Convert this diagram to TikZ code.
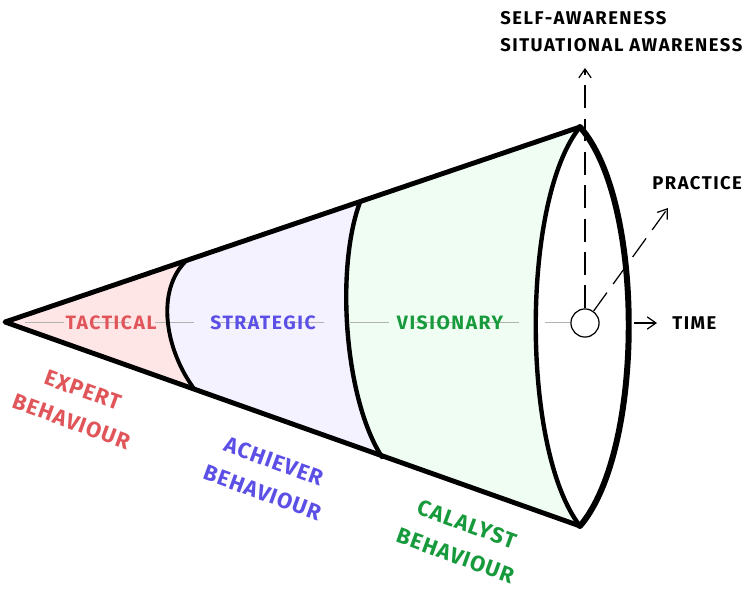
\documentclass[tikz,border=0pt]{standalone}
\usepackage{fontspec}
\setmainfont{Fira Sans}
\newfontfamily\sketchfont{Fira Sans}[LetterSpace=8]
\newfontfamily\slantfont{Fira Sans}[LetterSpace=5]
\usepackage{xcolor}
\usetikzlibrary{arrows.meta,positioning}

\definecolor{tacred}{HTML}{E0555A}
\definecolor{stratblue}{HTML}{5B4FE6}
\definecolor{visgreen}{HTML}{179A3C}
\definecolor{tacfill}{HTML}{FFE6E6}
\definecolor{stratfill}{HTML}{F4F2FF}
\definecolor{visfill}{HTML}{EFFDF3}

\begin{document}
\begin{tikzpicture}[
    x=0.02cm, y=-0.02cm,
    >={Straight Barb[length=5pt,width=7pt]},
    hand/.style={line width=2.8pt, line join=round, line cap=round},
    rim/.style={line width=2.2pt, line cap=round},
    axis/.style={draw=black!30, line width=0.5pt, dash pattern=on 22 off 15},
    guide/.style={->, line width=0.7pt, dash pattern=on 13pt off 6pt},
    caption/.style={font=\sketchfont\bfseries\fontsize{10.5}{12}\selectfont, inner sep=0pt},
    zone/.style={font=\sketchfont\bfseries\fontsize{11}{12}\selectfont, inner sep=0pt},
    behaviour/.style={font=\slantfont\bfseries\fontsize{12.5}{19}\selectfont, align=center, rotate=-20, inner sep=0pt}
]
\useasboundingbox (0,0) rectangle (744,591);

% cone outline points
\coordinate (apex) at (5,322);
\coordinate (top) at (580,127);
\coordinate (bot) at (580,526);
\coordinate (tac_top) at (187,260);
\coordinate (tac_bot) at (195,390);
\coordinate (vis_top) at (360,202);
\coordinate (vis_bot) at (382,457);

% fills
\fill[visfill] (apex) -- (top) .. controls (521,200) and (521,450) .. (bot) -- cycle;
\fill[stratfill] (apex) -- (vis_top) .. controls (335,270) and (345,400) .. (vis_bot) -- cycle;
\fill[tacfill] (apex) -- (tac_top) .. controls (155,290) and (165,350) .. (tac_bot) -- cycle;
\fill[white] (top) .. controls (521,200) and (521,450) .. (bot)
    .. controls (645,450) and (645,200) .. (top) -- cycle;

% centre line
\draw[axis] (25,322) -- (570,322);

% zones
\node[zone, text=tacred] (tactical) at (111,323) {TACTICAL};
\node[zone, text=stratblue] (strategic) at (263,323) {STRATEGIC};
\node[zone, text=visgreen] (visionary) at (450,323) {VISIONARY};

\node[behaviour, text=tacred] (expert) at (77,406) {EXPERT\\BEHAVIOUR};
\node[behaviour, text=stratblue] (achiever) at (268,477) {ACHIEVER\\BEHAVIOUR};
\node[behaviour, text=visgreen] (catalyst) at (461,540) {CALALYST\\BEHAVIOUR};

% outlines
\draw[hand] (top) -- (apex) -- (bot);
\draw[rim] (tac_top) .. controls (155,290) and (165,350) .. (tac_bot);
\draw[rim, line width=2.5pt] (vis_top) .. controls (335,270) and (345,400) .. (vis_bot);
\draw[rim, line width=2.5pt] (top) .. controls (521,200) and (521,450) .. (bot);
\draw[hand, line width=3.4pt] (top) .. controls (645,200) and (645,450) .. (bot);

% axes
\node[draw, circle, fill=white, line width=0.7pt, minimum size=16, inner sep=0pt] (hub) at (585,323) {};
\coordinate (up) at (585,68);
\coordinate (slant) at (668,208);
\coordinate (rim_right) at (634,323);
\coordinate (time_in) at (657,323);

\node[caption, anchor=west] (self) at (500,18) {SELF-AWARENESS};
\node[caption, anchor=west] (situ) at (500,45) {SITUATIONAL AWARENESS};
\node[caption, anchor=west] (practice) at (652,183) {PRACTICE};
\node[caption, anchor=west] (time) at (672,323) {TIME};

\draw[guide] (hub) -- (up);
\draw[guide] (hub) -- (slant);
\draw[->, line width=0.7pt] (rim_right) -- (time_in);

\end{tikzpicture}
\end{document}
